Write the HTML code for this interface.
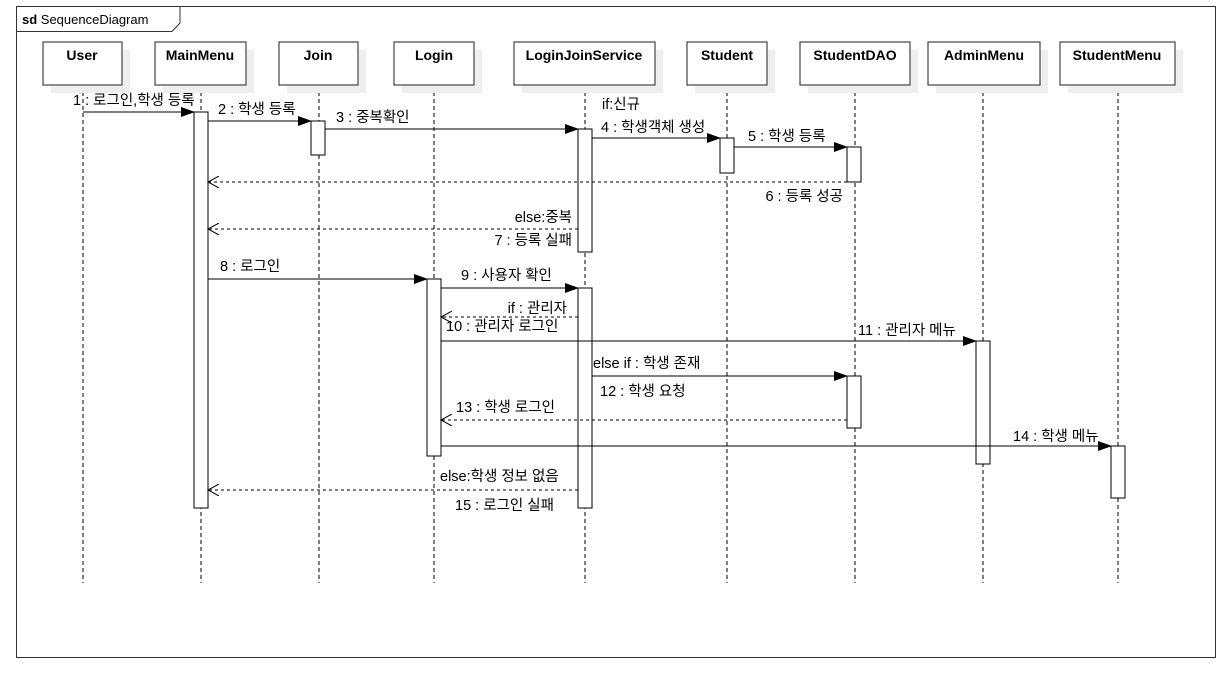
<!DOCTYPE html>
<html><head><meta charset="utf-8"><style>
body{margin:0;background:#fff}
svg text{font-family:"Liberation Sans","Noto Sans CJK KR",sans-serif;font-size:14.5px;fill:#000}
</style></head><body>
<svg width="1232" height="672" viewBox="0 0 1232 672" xmlns="http://www.w3.org/2000/svg">
<defs>
<marker id="f" markerWidth="14" markerHeight="10" refX="13" refY="5" orient="auto" markerUnits="userSpaceOnUse"><path d="M0,0 L14,5 L0,10 Z" fill="#000"/></marker>
<marker id="o" markerWidth="12" markerHeight="12" refX="11" refY="6" orient="auto" markerUnits="userSpaceOnUse"><path d="M0,0 L11,6 L0,12" fill="none" stroke="#000"/></marker>
</defs>
<rect x="16.5" y="6.5" width="1199" height="651" fill="none" stroke="#333"/>
<path d="M16.5,31.5 H172 L180,23 V6.5" fill="none" stroke="#333"/>
<text x="22" y="24" style="font-size:13px"><tspan font-weight="bold">sd</tspan> SequenceDiagram</text>
<g stroke="#000" stroke-dasharray="4,3">
<line x1="83" y1="85" x2="83" y2="583"/><line x1="201" y1="85" x2="201" y2="583"/><line x1="319" y1="85" x2="319" y2="583"/><line x1="434" y1="85" x2="434" y2="583"/><line x1="585" y1="85" x2="585" y2="583"/><line x1="727" y1="85" x2="727" y2="583"/><line x1="855" y1="85" x2="855" y2="583"/><line x1="983" y1="85" x2="983" y2="583"/><line x1="1118" y1="85" x2="1118" y2="583"/>
</g>
<g fill="#eee">
<rect x="51" y="50" width="79" height="43"/><rect x="163" y="50" width="91" height="43"/><rect x="287" y="50" width="79" height="43"/><rect x="402" y="50" width="80" height="43"/><rect x="522" y="50" width="141" height="43"/><rect x="695" y="50" width="80" height="43"/><rect x="808" y="50" width="110" height="43"/><rect x="936" y="50" width="112" height="43"/><rect x="1068" y="50" width="115" height="43"/>
</g>
<g fill="#fff" stroke="#444" stroke-width="1.2">
<rect x="43" y="42" width="79" height="43"/><rect x="155" y="42" width="91" height="43"/><rect x="279" y="42" width="79" height="43"/><rect x="394" y="42" width="80" height="43"/><rect x="514" y="42" width="141" height="43"/><rect x="687" y="42" width="80" height="43"/><rect x="800" y="42" width="110" height="43"/><rect x="928" y="42" width="112" height="43"/><rect x="1060" y="42" width="115" height="43"/>
</g>
<g text-anchor="middle" style="font-size:14px">
<text x="82" y="60" font-weight="bold" style="font-size:14px">User</text><text x="200" y="60" font-weight="bold" style="font-size:14px">MainMenu</text><text x="318" y="60" font-weight="bold" style="font-size:14px">Join</text><text x="434" y="60" font-weight="bold" style="font-size:14px">Login</text><text x="584" y="60" font-weight="bold" style="font-size:14px">LoginJoinService</text><text x="727" y="60" font-weight="bold" style="font-size:14px">Student</text><text x="855" y="60" font-weight="bold" style="font-size:14px">StudentDAO</text><text x="984" y="60" font-weight="bold" style="font-size:14px">AdminMenu</text><text x="1117" y="60" font-weight="bold" style="font-size:14px">StudentMenu</text>
</g>
<g fill="#fff" stroke="#000">
<rect x="194" y="112" width="14" height="396"/><rect x="311" y="121" width="14" height="34"/><rect x="578" y="129" width="14" height="123"/><rect x="578" y="288" width="14" height="220"/><rect x="720" y="138" width="14" height="35"/><rect x="847" y="147" width="14" height="35"/><rect x="847" y="376" width="14" height="52"/><rect x="427" y="279" width="14" height="177"/><rect x="976" y="341" width="14" height="123"/><rect x="1111" y="446" width="14" height="52"/>
</g>
<g stroke="#000" marker-end="url(#f)">
<line x1="83" y1="112" x2="194" y2="112"/><line x1="208" y1="121" x2="311" y2="121"/><line x1="325" y1="129" x2="578" y2="129"/><line x1="592" y1="138" x2="720" y2="138"/><line x1="734" y1="147" x2="847" y2="147"/><line x1="208" y1="279" x2="427" y2="279"/><line x1="441" y1="288" x2="578" y2="288"/><line x1="441" y1="341" x2="976" y2="341"/><line x1="592" y1="376" x2="847" y2="376"/><line x1="441" y1="446" x2="1111" y2="446"/>
</g>
<g stroke="#000" stroke-dasharray="3,3" marker-end="url(#o)">
<line x1="847" y1="182" x2="208" y2="182"/><line x1="578" y1="229" x2="208" y2="229"/><line x1="578" y1="317" x2="441" y2="317"/><line x1="847" y1="420" x2="441" y2="420"/><line x1="578" y1="490" x2="208" y2="490"/>
</g>
<text x="73" y="105">1 : 로그인,학생 등록</text>
<text x="218" y="114">2 : 학생 등록</text>
<text x="336" y="122">3 : 중복확인</text>
<text x="602" y="109">if:신규</text>
<text x="601" y="132">4 : 학생객체 생성</text>
<text x="748" y="141">5 : 학생 등록</text>
<text x="843" y="201" text-anchor="end">6 : 등록 성공</text>
<text x="572" y="222" text-anchor="end">else:중복</text>
<text x="572" y="245" text-anchor="end">7 : 등록 실패</text>
<text x="220" y="271">8 : 로그인</text>
<text x="461" y="280">9 : 사용자 확인</text>
<text x="567" y="313" text-anchor="end">if : 관리자</text>
<text x="446" y="331">10 : 관리자 로그인</text>
<text x="858" y="335">11 : 관리자 메뉴</text>
<text x="593" y="368">else if : 학생 존재</text>
<text x="600" y="396">12 : 학생 요청</text>
<text x="456" y="412">13 : 학생 로그인</text>
<text x="1013" y="441">14 : 학생 메뉴</text>
<text x="440" y="481">else:학생 정보 없음</text>
<text x="455" y="510">15 : 로그인 실패</text>
</svg>
</body></html>
